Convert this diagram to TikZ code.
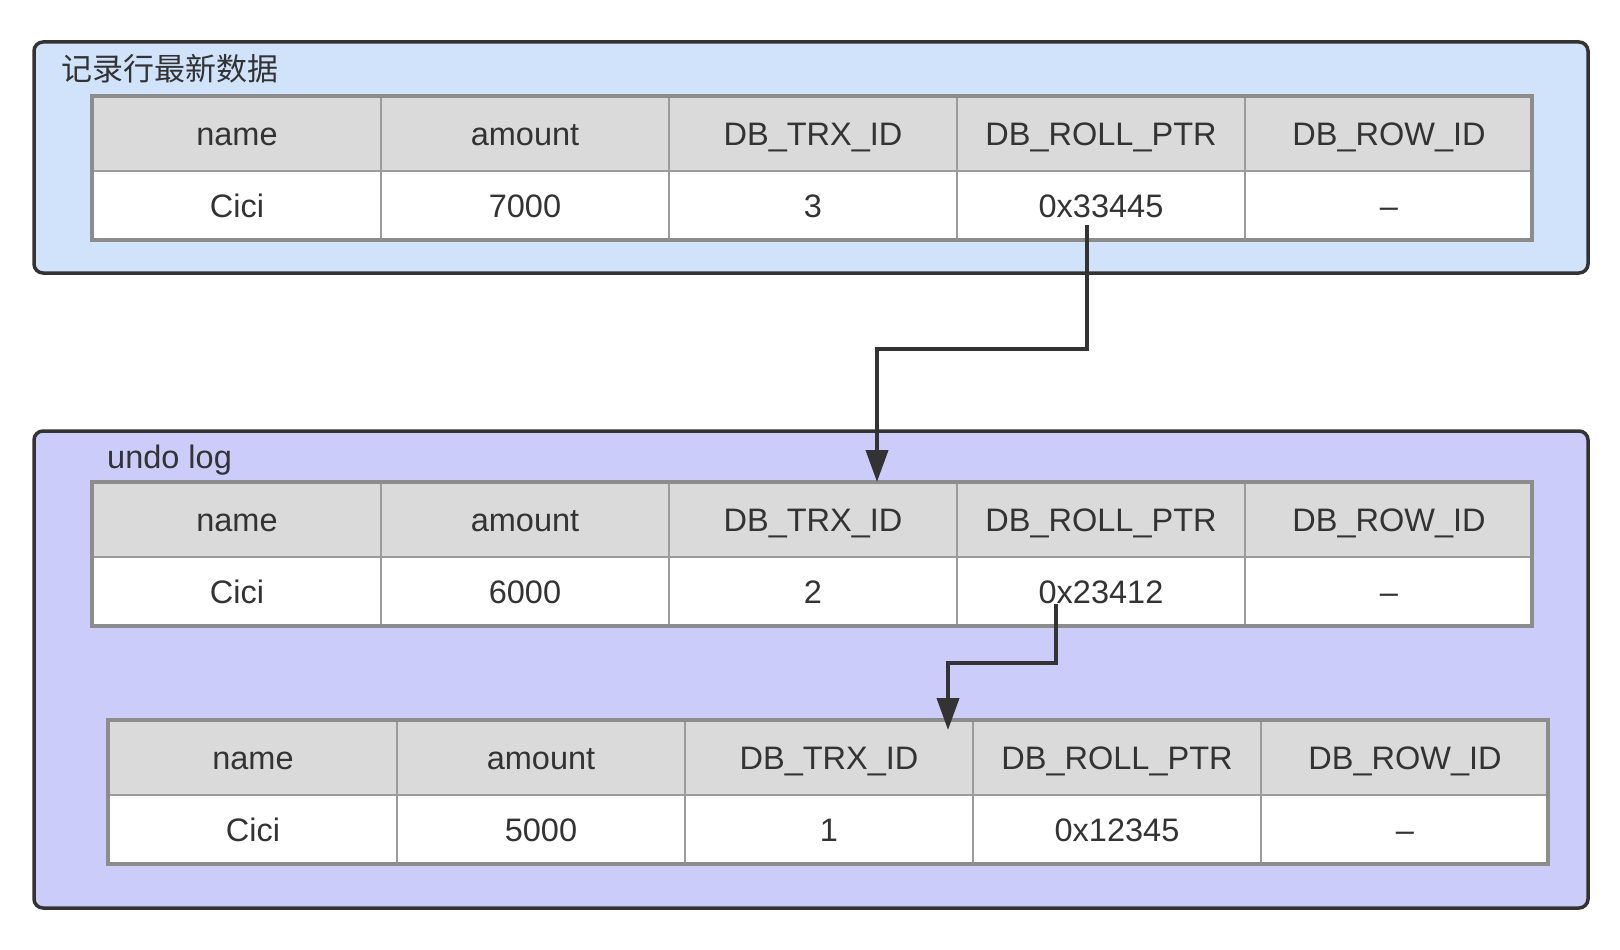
\documentclass[tikz,border=0pt]{standalone}
\usepackage{fontspec}
\setmainfont{Liberation Sans}
\newfontfamily\cjk{Noto Sans CJK SC}
\usetikzlibrary{arrows.meta}
\definecolor{boxA}{RGB}{208,227,250}
\definecolor{boxB}{RGB}{204,204,250}
\definecolor{hdr}{RGB}{218,218,218}
\definecolor{grid}{RGB}{155,155,155}
\definecolor{frame}{RGB}{140,140,140}
\definecolor{ink}{RGB}{51,51,51}
\tikzset{
  groupbox/.style={draw=ink, line width=3.5pt, rounded corners=9pt},
  cellbase/.style={draw=grid, line width=2pt, anchor=north west, inner sep=0pt,
    minimum width=288pt, text height=23.5pt, text depth=0pt, text=ink,
    font=\fontsize{32.5}{38}\selectfont},
  hcell/.style={cellbase, fill=hdr, minimum height=74pt},
  vcell/.style={cellbase, fill=white, minimum height=70pt},
  tframe/.style={draw=frame, line width=4pt},
  title/.style={anchor=base west, inner sep=0pt, text=ink},
  conn/.style={draw=ink, line width=4pt, -{Triangle[length=32pt,width=22pt]}},
}
\newcommand\nodash{\textendash}
\newcommand\dbtable[4]{%
  \foreach \lab [count=\i] in {name,amount,DB\_TRX\_ID,DB\_ROLL\_PTR,DB\_ROW\_ID} {
    \node[hcell] (#1h\i) at ({#2+(\i-1)*288},#3) {\lab};
  }
  \foreach \val [count=\i] in {#4} {
    \node[vcell] (#1v\i) at ({#2+(\i-1)*288},{#3+74}) {\val};
  }
  \draw[tframe] (#2,#3) rectangle ++(1440,144);
}
\begin{document}
\begin{tikzpicture}[x=1pt,y=-1pt]
\useasboundingbox[fill=white] (0,0) rectangle (1620,950);
% group boxes
\draw[groupbox, fill=boxA] (34,42) rectangle (1588,273);
\node[title, font=\fontsize{31}{36}\selectfont] (t1) at (61,81) {\cjk 记录行最新数据};
\draw[groupbox, fill=boxB] (34,431) rectangle (1588,908);
\node[title, font=\fontsize{32.5}{38}\selectfont] (t2) at (107,468) {undo log};
% tables
\dbtable{a}{92}{96}{Cici,7000,3,0x33445,\nodash}
\dbtable{b}{92}{482}{Cici,6000,2,0x23412,\nodash}
\dbtable{c}{108}{720}{Cici,5000,1,0x12345,\nodash}
% connectors
\coordinate (p1s) at (1087,225);
\coordinate (p1m) at (877,349);
\coordinate (p1e) at (877,482);
\draw[conn] (p1s) |- (p1m) -- (p1e);
\coordinate (p2s) at (1056,604);
\coordinate (p2m) at (948,663);
\coordinate (p2e) at (948,730);
\draw[conn] (p2s) |- (p2m) -- (p2e);
\end{tikzpicture}
\end{document}
